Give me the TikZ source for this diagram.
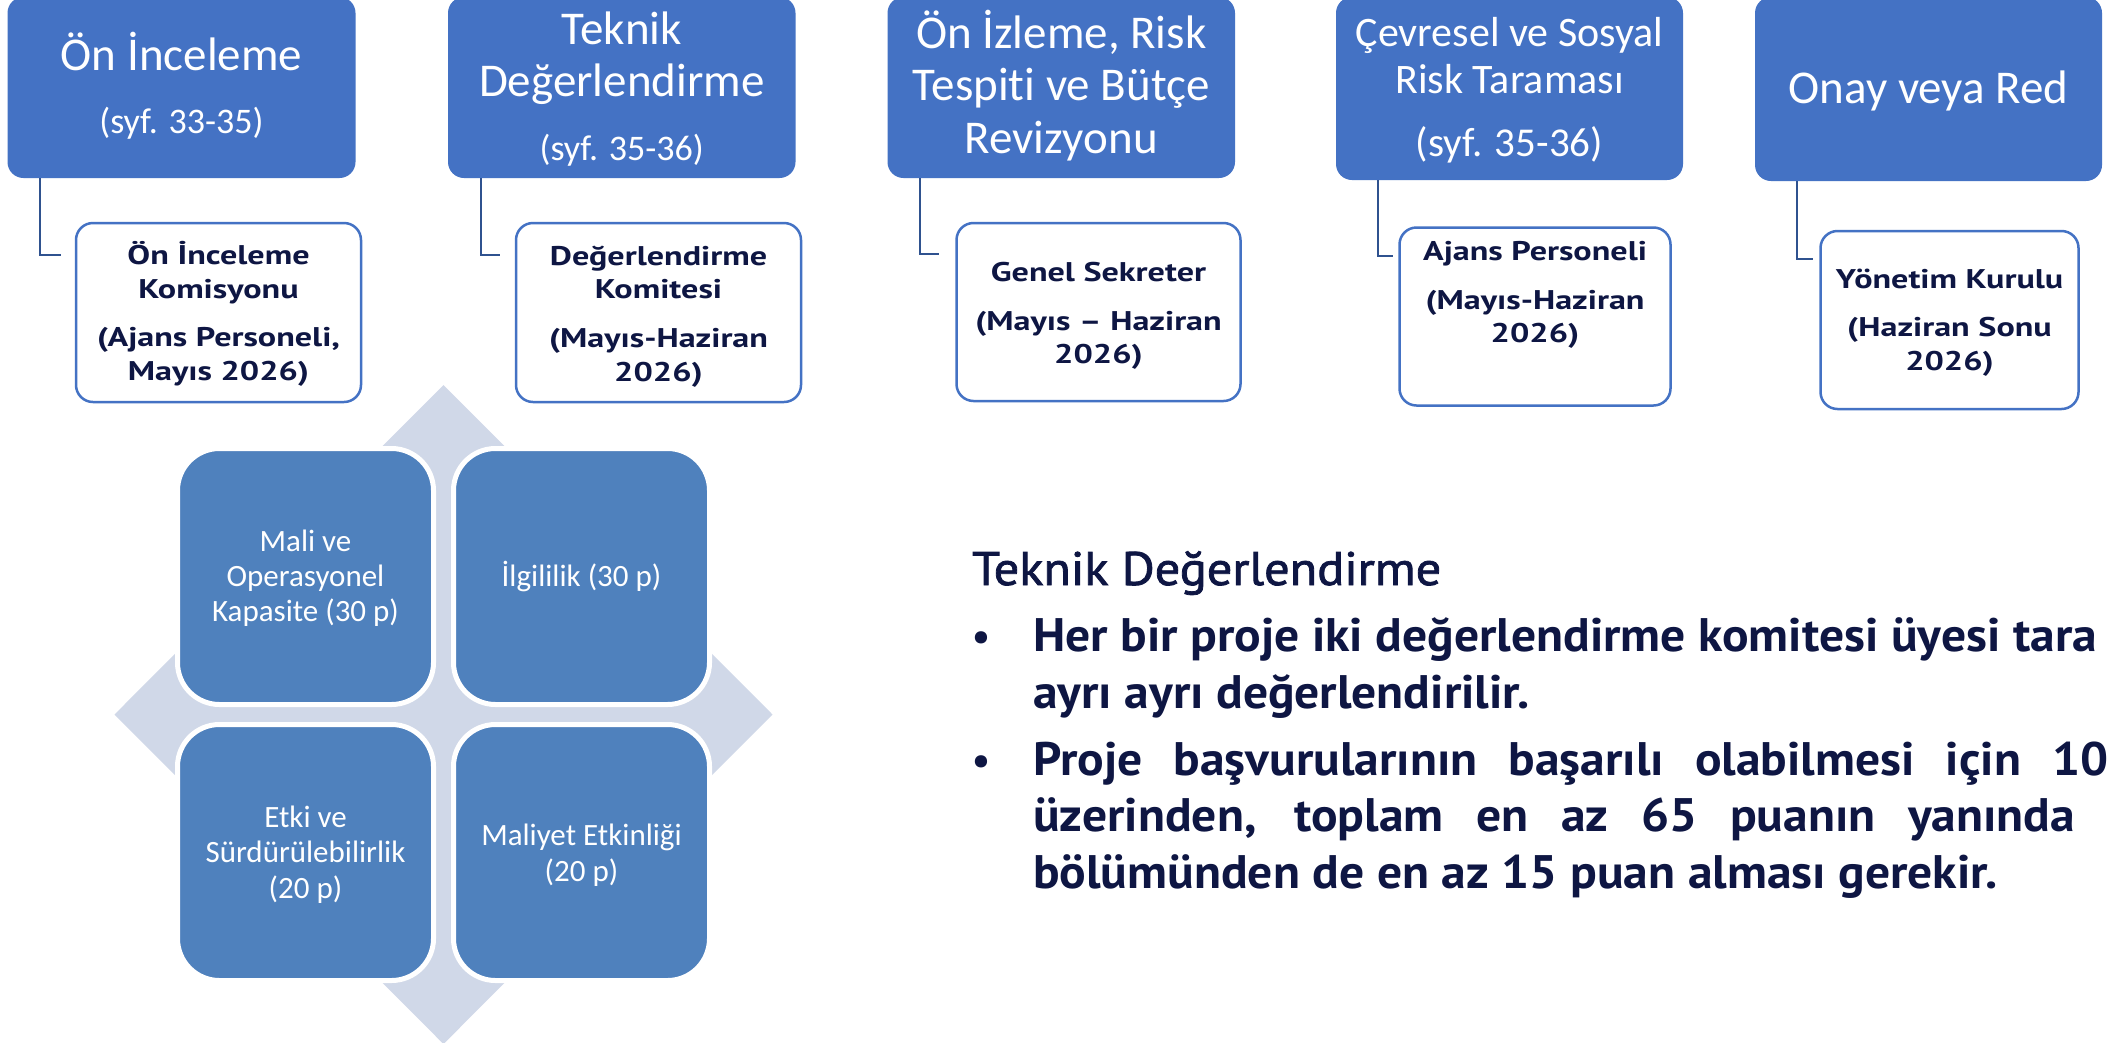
\documentclass[tikz,border=0pt]{standalone}
\usepackage{fontspec}
\usepackage{graphicx}
\usetikzlibrary{calc}
\setmainfont{Carlito}[Ligatures=NoCommon]
\newfontfamily\calfont{Carlito}[Ligatures=NoCommon]
\newfontfamily\dinfont{PT Sans}
\newfontfamily\dinmed{PT Sans}[FakeBold=1.6]
\definecolor{topblue}{HTML}{4472C4}
\definecolor{connblue}{HTML}{2F528F}
\definecolor{sqblue}{HTML}{4F81BD}
\definecolor{diamondc}{HTML}{D0D8E8}
\definecolor{navy}{HTML}{0E1643}

\newcommand\bodyfont{\dinfont\bfseries\fontsize{47}{56}\selectfont}
\newcommand\headfont{\dinmed\fontsize{47}{56}\selectfont}
\newcommand\bulfont{\dinfont\fontsize{44}{56}\selectfont}
\newcommand\kidfont{\dinfont\bfseries\fontsize{27}{33.5}\selectfont}
\newcommand\topfont{\calfont\fontsize{47}{52.4}\selectfont}
\newcommand\sqfont{\calfont\fontsize{31}{35.2}\selectfont}

\newlength\mylen
\settowidth\mylen{\bodyfont bölümünden de en az 15 puan alması gerekir.}
\pgfmathsetmacro\sxb{964/\mylen}
\settowidth\mylen{\headfont Teknik Değerlendirme}
\pgfmathsetmacro\sxh{469/\mylen}
\settowidth\mylen{\kidfont (Ajans Personeli,}
\pgfmathsetmacro\sxc{243/\mylen}
\settowidth\mylen{\bodyfont 100}
\pgfmathsetmacro\wthree{(2052-1033)/\sxb+\mylen}
\pgfmathsetmacro\wfour{(2075-1033)/\sxb}

\newcommand\stk[2][0pt]{\raisebox{#1}[\height][\depth]{\begin{tabular}[t]{@{}c@{}}#2\end{tabular}}}
\newcommand\sm[1]{\smash{#1}}

\tikzset{
  topbox/.style={rectangle, rounded corners=16pt, fill=topblue, draw=none, inner sep=0pt, text=white, font=\topfont},
  kidbox/.style={rectangle, rounded corners=17pt, fill=white, draw=topblue, line width=2.5pt, inner sep=0pt, text=navy, font=\kidfont},
  conn/.style={draw=connblue, line width=2pt},
  sqbox/.style={rectangle, rounded corners=42pt, fill=sqblue, draw=white, line width=5pt, minimum width=256pt, minimum height=256pt, inner sep=0pt, text=white, font=\sqfont},
  bodyt/.style={anchor=base west, inner sep=0pt, text=navy},
}

\begin{document}
\begin{tikzpicture}[x=1pt,y=-1pt]
\useasboundingbox (0,0) rectangle (2108,1042);
\fill[white] (0,0) rectangle (2108,1042);

% top boxes
\node[topbox, minimum width=348pt, minimum height=181pt] (b1) at (181.5,87.5)
  {\stk[-4.1pt]{\sm{Ön İnceleme}\\[10pt]\fontsize{36}{40}\selectfont\sm{(syf. 33-35)}}};
\node[topbox, minimum width=347.5pt, minimum height=181pt] (b2) at (621.75,87.5)
  {\stk[-4.2pt]{\sm{Teknik}\\\sm{Değerlendirme}\\[10.9pt]\fontsize{36}{40}\selectfont\sm{(syf. 35-36)}}};
\node[topbox, minimum width=347.5pt, minimum height=181pt] (b3) at (1061.25,87.5)
  {\stk[-3pt]{\sm{Ön İzleme, Risk}\\\sm{Tespiti ve Bütçe}\\\sm{Revizyonu}}};
\node[topbox, minimum width=347pt, minimum height=183pt, font=\calfont\fontsize{42}{47.3}\selectfont] (b4) at (1509.5,88.5)
  {\stk[-3.7pt]{\sm{Çevresel ve Sosyal}\\\sm{Risk Taraması}\\[15.4pt]\fontsize{41}{45}\selectfont\sm{(syf. 35-36)}}};
\node[topbox, minimum width=347pt, minimum height=184pt] (b5) at (1928.5,89)
  {\stk[-3.9pt]{\sm{Onay veya Red}}};

% child boxes
\node[kidbox, minimum width=285pt, minimum height=179pt] (c1) at (218.5,312.5)
  {\scalebox{\sxc}[1]{\stk[-3.3pt]{\sm{Ön İnceleme}\\\sm{Komisyonu}\\[15pt]\sm{(Ajans Personeli,}\\\sm{Mayıs 2026)}}}};
\node[kidbox, minimum width=285pt, minimum height=179pt] (c2) at (658.5,312.5)
  {\scalebox{\sxc}[1]{\stk[-4.1pt]{\sm{Değerlendirme}\\\sm{Komitesi}\\[15.5pt]\sm{(Mayıs-Haziran}\\\sm{2026)}}}};
\node[kidbox, minimum width=284pt, minimum height=178pt] (c3) at (1098.5,312)
  {\scalebox{\sxc}[1]{\stk[-3.8pt]{\sm{Genel Sekreter}\\[15pt]\sm{(Mayıs – Haziran}\\\sm{2026)}}}};
\node[kidbox, minimum width=271pt, minimum height=178pt] (c4) at (1535,316.5)
  {\scalebox{\sxc}[1]{\stk[21.5pt]{\sm{Ajans Personeli}\\[15pt]\sm{(Mayıs-Haziran}\\\sm{2026)}}}};
\node[kidbox, minimum width=258pt, minimum height=178pt] (c5) at (1949.5,320)
  {\scalebox{\sxc}[1]{\stk[-2.5pt]{\sm{Yönetim Kurulu}\\[15pt]\sm{(Haziran Sonu}\\\sm{2026)}}}};

% connectors
\coordinate (k1) at ($(c1.north west)+(-14,33)$);
\coordinate (k2) at ($(c2.north west)+(-15,33)$);
\coordinate (k3) at ($(c3.north west)+(-16,32)$);
\coordinate (k4) at ($(c4.north west)+(-5,30)$);
\coordinate (k5) at ($(c5.north west)+(-6,29)$);
\draw[conn] ($(b1.south west)+(33,0)$) |- (k1);
\draw[conn] ($(b2.south west)+(33,0)$) |- (k2);
\draw[conn] ($(b3.south west)+(33,0)$) |- (k3);
\draw[conn] ($(b4.south west)+(42,0)$) |- (k4);
\draw[conn] ($(b5.south west)+(42,0)$) |- (k5);

% diamond and squares
\fill[diamondc] (443.5,385) -- (772.5,714.5) -- (443.5,1044) -- (114.5,714.5) -- cycle;
\node[sqbox] (s1) at (305.5,576.5) {\stk[-2.7pt]{\sm{Mali ve}\\\sm{Operasyonel}\\\sm{Kapasite (30 p)}}};
\node[sqbox] (s2) at (581.5,576.5) {\stk[-3.3pt]{\sm{İlgililik (30 p)}}};
\node[sqbox] (s3) at (305.5,852.5) {\stk[-3.4pt]{\sm{Etki ve}\\\sm{Sürdürülebilirlik}\\\sm{(20 p)}}};
\node[sqbox] (s4) at (581.5,852.5) {\stk[-4pt]{\sm{Maliyet Etkinliği}\\\sm{(20 p)}}};

% text block
\node[bodyt, font=\headfont] (hd) at (972,585) {\scalebox{\sxh}[1]{Teknik Değerlendirme}};
\node[bodyt, font=\bulfont] (bu1) at (971,651.7) {•};
\node[bodyt, font=\bodyfont] (l1) at (1033,651.7) {\scalebox{\sxb}[1]{Her bir proje iki değerlendirme komitesi üyesi tara}};
\node[bodyt, font=\bodyfont] (l2) at (1033,708) {\scalebox{\sxb}[1]{ayrı ayrı değerlendirilir.}};
\node[bodyt, font=\bulfont] (bu2) at (971,775) {•};
\node[bodyt, font=\bodyfont] (l3) at (1033,775) {\scalebox{\sxb}[1]{\makebox[\wthree pt][s]{Proje başvurularının başarılı olabilmesi için 100}}};
\node[bodyt, font=\bodyfont] (l4) at (1033,831.7) {\scalebox{\sxb}[1]{\makebox[\wfour pt][s]{üzerinden, toplam en az 65 puanın yanında}}};
\node[bodyt, font=\bodyfont] (l5) at (1033,888) {\scalebox{\sxb}[1]{bölümünden de en az 15 puan alması gerekir.}};
\end{tikzpicture}
\end{document}
